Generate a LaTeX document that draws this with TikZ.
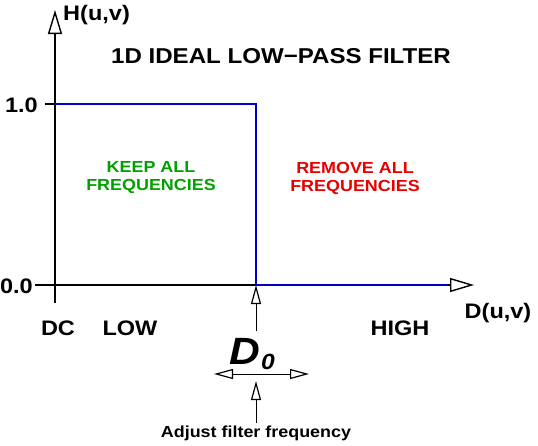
\documentclass[tikz,border=0pt]{standalone}
\usepackage{fontspec}
\setmainfont[FakeStretch=1.12]{Liberation Sans}
\usetikzlibrary{arrows.meta}
\definecolor{cutblue}{RGB}{0,0,205}
\definecolor{keepgreen}{RGB}{0,160,0}
\definecolor{removered}{RGB}{230,0,0}
\tikzset{
  lbl/.style={font=\bfseries\fontsize{21}{22}\selectfont, inner sep=0pt},
  zone/.style={font=\bfseries\fontsize{16}{18}\selectfont, align=center, inner sep=0pt},
  axis/.style={line width=1.6pt, -{Triangle[open, length=24pt, width=14pt, line width=1.4pt]}},
  pointer/.style={line width=1pt, -{Triangle[open, length=19pt, width=10pt, line width=1.2pt]}}
}
\begin{document}
\begin{tikzpicture}[x=1pt, y=-1pt]
\useasboundingbox (0,0) rectangle (538,445);
\coordinate (o) at (55,285);
\coordinate (ytop) at (55,10);
\coordinate (ybot) at (55,303);
\coordinate (xbeg) at (35,285);
\coordinate (xend) at (474,285);
\coordinate (tick) at (45,104);
\coordinate (pass) at (55,104);
\coordinate (cuttop) at (256,104);
\coordinate (cut) at (256,285);
\coordinate (stop) at (448,285);
\node[lbl, anchor=west] (hlab) at (63,15) {H(u,v)};
\node[lbl, font=\bfseries\fontsize{21.5}{22}\selectfont] (title) at (281,56) {1D IDEAL LOW\textminus PASS FILTER};
\node[lbl, anchor=east] (one) at (38,105) {1.0};
\node[lbl, anchor=east] (zero) at (33,286) {0.0};
\node[zone, text=keepgreen] (keep) at (151,178) {KEEP ALL\\FREQUENCIES};
\node[zone, text=removered] (remove) at (355,178) {REMOVE ALL\\FREQUENCIES};
\node[lbl] (dc) at (58,328) {DC};
\node[lbl] (low) at (130,328) {LOW};
\node[lbl] (high) at (400,328) {HIGH};
\node[lbl] (dlab) at (498,313) {D(u,v)};
\node[inner sep=0pt, font=\bfseries\itshape\fontsize{38}{40}\selectfont] (dzero) at (252,354) {D\kern1pt\raisebox{-5pt}{\fontsize{22}{22}\selectfont 0}};
\node[inner sep=0pt, font=\bfseries\fontsize{16}{17}\selectfont] (adjust) at (256,433) {Adjust filter frequency};
\coordinate (dup) at (256,331);
\coordinate (left) at (214,374);
\coordinate (right) at (309,374);
\coordinate (mid) at (256,374);
\coordinate (dlow) at (256,423);
\coordinate (dhit) at (256,381);
\draw[axis] (ybot) -- (ytop);
\draw[axis] (xbeg) -- (xend);
\draw[line width=1.6pt] (tick) -- (pass);
\draw[cutblue, line width=1.6pt] (pass) -- (cuttop) -- (cut) -- (stop);
\draw[pointer] (dup) -- (cut);
\draw[pointer] (mid) -- (left);
\draw[pointer] (mid) -- (right);
\draw[pointer] (dlow) -- (dhit);
\end{tikzpicture}
\end{document}
